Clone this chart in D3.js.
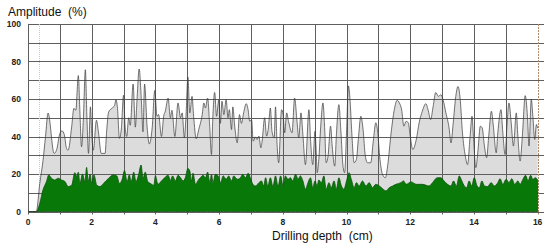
<!DOCTYPE html>
<html>
<head>
<meta charset="utf-8">
<script src="https://cdn.jsdelivr.net/npm/d3@7"></script>
<style>
  body { margin: 0; background: #fff; }
  svg { display: block; font-family: "Liberation Sans", Arial, sans-serif; }
</style>
</head>
<body>
<div id="chart"></div>
<script>
"use strict";

// amplitude profile (grey, thin black outline): [depth cm, amplitude %]
var amplitudeProfile = [
  [0, 0], [0.26, 0], [0.37, 15], [0.47, 27], [0.55, 40], [0.63, 52.5], [0.82, 31], [0.9, 33],
  [1.0, 41.6], [1.07, 43], [1.14, 41], [1.21, 33.6], [1.26, 32.7], [1.37, 45], [1.44, 55], [1.5, 54],
  [1.58, 72.5], [1.63, 53], [1.68, 34.5], [1.74, 50], [1.8, 75.6], [1.85, 50], [1.9, 31], [1.96, 55.8],
  [2.0, 41.6], [2.05, 32.7], [2.15, 48.7], [2.21, 42.5], [2.3, 31], [2.42, 31], [2.47, 43], [2.53, 53],
  [2.63, 55], [2.72, 56.6], [2.76, 59.6], [2.81, 55], [2.87, 39], [2.93, 44], [3.0, 62], [3.05, 45],
  [3.1, 40], [3.16, 50], [3.21, 46], [3.3, 68], [3.37, 45], [3.42, 59], [3.49, 76], [3.56, 59],
  [3.61, 42.5], [3.66, 68], [3.74, 45], [3.81, 36], [3.9, 45], [3.98, 64.6], [4.05, 50.8], [4.1, 51.7],
  [4.19, 40], [4.26, 50.8], [4.31, 53.5], [4.4, 60.5], [4.47, 50], [4.52, 54], [4.61, 40], [4.71, 57.9],
  [4.79, 50], [4.84, 52.6], [4.91, 39.3], [4.96, 50.8], [5.02, 71.7], [5.08, 52.6], [5.15, 61.4], [5.2, 50.8],
  [5.28, 38.8], [5.36, 43.7], [5.47, 51.7], [5.52, 57.9], [5.57, 55.2], [5.64, 60.5], [5.7, 47], [5.76, 30.4],
  [5.8, 49], [5.86, 63.5], [5.92, 50.8], [5.99, 59.6], [6.04, 47], [6.09, 58.8], [6.15, 51.7], [6.22, 59.6],
  [6.28, 50], [6.32, 54.3], [6.39, 43.7], [6.43, 55.8], [6.49, 45.5], [6.57, 36.6], [6.64, 51.7], [6.7, 47],
  [6.77, 52.6], [6.85, 57.5], [6.91, 54.3], [6.96, 48.1], [7.02, 49], [7.07, 37.5], [7.14, 39.8], [7.19, 38.4],
  [7.25, 40.2], [7.31, 34], [7.35, 37.5], [7.43, 50], [7.49, 40.2], [7.54, 43.7], [7.61, 55.2], [7.66, 42.8],
  [7.73, 39.3], [7.77, 55.8], [7.82, 35.8], [7.87, 26], [7.96, 54.3], [8.01, 51.7], [8.06, 42], [8.12, 52.6],
  [8.18, 48], [8.29, 42], [8.37, 60.5], [8.45, 47.3], [8.5, 39.3], [8.57, 52.6], [8.63, 41], [8.71, 25],
  [8.82, 54.3], [8.87, 38.4], [8.94, 25], [9.01, 42.8], [9.05, 31.3], [9.08, 20.7], [9.13, 27.8], [9.19, 45.5],
  [9.26, 57.9], [9.32, 42], [9.36, 26], [9.42, 29.6], [9.5, 45.5], [9.55, 34.9], [9.63, 24.2], [9.68, 40.2],
  [9.76, 57], [9.82, 43.7], [9.89, 24.2], [9.94, 20.7], [10.0, 42], [10.06, 67], [10.11, 59.6], [10.16, 43.7],
  [10.24, 26], [10.31, 27.8], [10.37, 38.4], [10.45, 50.8], [10.52, 43.7], [10.59, 29.6], [10.66, 26], [10.76, 26],
  [10.84, 37.5], [10.92, 47.3], [10.97, 43.7], [11.05, 27.8], [11.13, 19.8], [11.22, 18], [11.29, 24.2], [11.4, 42],
  [11.5, 54.3], [11.59, 59.3], [11.66, 57.9], [11.73, 54.3], [11.8, 45.5], [11.87, 48.1], [11.94, 47.3], [12.0, 40.2],
  [12.08, 33.1], [12.19, 38.4], [12.28, 47.3], [12.38, 53.5], [12.49, 57.5], [12.56, 54.3], [12.64, 49], [12.72, 56.1],
  [12.8, 63.5], [12.89, 61.4], [12.96, 62.3], [13.03, 59.6], [13.12, 52.6], [13.22, 44.6], [13.28, 36.6], [13.35, 47.3],
  [13.43, 61.4], [13.5, 66.7], [13.57, 59.6], [13.64, 42], [13.73, 29.6], [13.8, 25], [13.88, 40.2], [13.94, 50.8],
  [13.99, 38.4], [14.06, 23.4], [14.13, 33.1], [14.2, 45.5], [14.26, 44.6], [14.33, 34.9], [14.4, 28.7], [14.46, 39.3],
  [14.55, 53.5], [14.61, 45.5], [14.7, 31.3], [14.75, 42], [14.85, 54.3], [14.9, 43.7], [14.98, 30.4], [15.03, 43.7],
  [15.1, 57.9], [15.17, 47.3], [15.24, 34.9], [15.33, 52.6], [15.38, 40.2], [15.45, 26.9], [15.52, 40.2], [15.61, 61.8],
  [15.68, 50.8], [15.73, 34.9], [15.8, 60], [15.85, 50.8], [15.91, 38.4], [15.96, 46.4], [16.0, 44.6]
];

// feed profile (green)
var feedProfile = [
  [0, 0], [0.26, 0], [0.37, 4.4], [0.47, 11.5], [0.58, 16], [0.65, 19.5], [0.74, 17.7], [0.84, 16.8],
  [0.95, 17.7], [1.05, 16.8], [1.16, 16], [1.26, 13.3], [1.37, 14], [1.47, 20.7], [1.53, 18.6], [1.58, 21],
  [1.63, 15], [1.71, 20], [1.79, 16], [1.84, 23.5], [1.89, 16], [1.95, 20], [2.0, 15], [2.07, 19.5],
  [2.16, 14], [2.26, 13.3], [2.37, 15], [2.53, 17.7], [2.68, 19.5], [2.79, 19], [2.87, 15], [2.95, 16.8],
  [3.03, 21.8], [3.11, 16], [3.18, 19.5], [3.24, 16], [3.32, 21], [3.39, 16], [3.47, 19.5], [3.55, 24.8],
  [3.61, 17.7], [3.68, 21], [3.76, 16], [3.84, 15], [3.95, 14], [4.0, 19], [4.08, 14.5], [4.19, 16.3],
  [4.29, 18], [4.4, 19.3], [4.47, 16.6], [4.54, 19], [4.63, 16.3], [4.71, 19.3], [4.79, 18], [4.87, 16.3],
  [4.94, 18], [5.02, 23], [5.08, 21.6], [5.13, 16.3], [5.18, 20.4], [5.26, 14.5], [5.34, 16.6], [5.41, 18],
  [5.5, 19.3], [5.57, 18], [5.64, 21], [5.71, 15.4], [5.76, 19.8], [5.81, 15.4], [5.88, 19.8], [5.97, 19],
  [6.04, 15.4], [6.13, 19], [6.22, 17.2], [6.3, 19], [6.39, 16.3], [6.46, 19], [6.57, 17.2], [6.67, 18],
  [6.74, 19.8], [6.83, 18], [6.91, 20.4], [6.98, 18], [7.06, 14.5], [7.14, 13.6], [7.25, 15.4], [7.33, 16.3],
  [7.4, 13.6], [7.46, 18], [7.53, 13.6], [7.61, 18], [7.69, 13.3], [7.77, 19], [7.85, 13.3], [7.93, 19],
  [8.01, 13.6], [8.08, 19], [8.16, 17.2], [8.24, 18], [8.31, 16.3], [8.4, 19.8], [8.48, 17.2], [8.55, 19],
  [8.63, 16.3], [8.71, 11.9], [8.79, 15.4], [8.87, 18], [8.94, 12.7], [9.01, 16.3], [9.08, 13.6], [9.13, 16.8],
  [9.21, 15.4], [9.29, 19], [9.36, 11.9], [9.45, 15.4], [9.52, 12.7], [9.61, 16.3], [9.68, 11.9], [9.76, 18],
  [9.84, 13.6], [9.92, 11.9], [10.0, 16.3], [10.08, 20.7], [10.15, 17.2], [10.24, 12.7], [10.31, 15.4], [10.4, 13.6],
  [10.5, 16.3], [10.61, 13.6], [10.71, 15.4], [10.82, 12.7], [10.92, 14.5], [11.03, 13.6], [11.13, 12.2], [11.24, 11],
  [11.34, 12.7], [11.45, 13.6], [11.55, 14.5], [11.71, 15.4], [11.79, 16.3], [11.87, 14.5], [12.03, 15.8], [12.19, 14.5],
  [12.38, 14.5], [12.59, 13.6], [12.7, 15.4], [12.85, 18], [12.96, 18], [13.06, 16.3], [13.17, 14.5], [13.28, 13.6],
  [13.36, 16.3], [13.45, 13.6], [13.54, 19], [13.62, 16.3], [13.7, 13.6], [13.77, 12.7], [13.85, 16.3], [13.93, 13.6],
  [14.01, 18], [14.1, 13.6], [14.17, 12.7], [14.25, 16.3], [14.33, 13.6], [14.43, 13.3], [14.54, 15.4], [14.64, 13.6],
  [14.75, 15.4], [14.82, 17.5], [14.91, 14.5], [15.01, 17.2], [15.1, 15.4], [15.19, 17.5], [15.28, 14.5], [15.38, 16.3],
  [15.45, 14.5], [15.54, 17.2], [15.62, 19.3], [15.7, 16.3], [15.78, 19.3], [15.85, 17.2], [15.93, 18], [16.0, 16.8]
];

var xTickLabels = [0, 2, 4, 6, 8, 10, 12, 14, 16];
var yTickLabels = [0, 20, 40, 60, 80, 100];
var startMarker = 0.35;   // yellow dotted line
var endMarker = 16;       // brown dotted line

var width = 550, height = 248;
var plotLeft = 28, plotRight = 544, plotTop = 24, plotBottom = 211.5;

var x = d3.scaleLinear().domain([0, 16.2]).range([plotLeft, plotRight]);
var y = d3.scaleLinear().domain([0, 100]).range([plotBottom, plotTop]);

function px(v) { return Math.round(v) + 0.5; }

var svg = d3.select("#chart").append("svg")
  .attr("width", width)
  .attr("height", height);

// grey amplitude area
var area = d3.area()
  .x(function (d) { return x(d[0]); })
  .y0(y(0))
  .y1(function (d) { return y(d[1]); })
  .curve(d3.curveMonotoneX);

svg.append("path")
  .datum(amplitudeProfile)
  .attr("d", area)
  .attr("fill", "#dcdcdc");

// grid
var grid = svg.append("g").attr("stroke", "#5e5e5e").attr("stroke-width", 1);
grid.selectAll(".h").data(d3.range(0, 101, 10)).enter().append("line")
  .attr("x1", plotLeft).attr("x2", plotRight)
  .attr("y1", function (d) { return px(y(d)); })
  .attr("y2", function (d) { return px(y(d)); });
grid.selectAll(".v").data(d3.range(0, 16, 1)).enter().append("line")
  .attr("y1", plotTop).attr("y2", plotBottom + 3)
  .attr("x1", function (d) { return px(x(d)); })
  .attr("x2", function (d) { return px(x(d)); });

// markers
svg.append("line")
  .attr("x1", px(x(startMarker))).attr("x2", px(x(startMarker)))
  .attr("y1", plotTop).attr("y2", plotBottom)
  .attr("stroke", "#e6cf4a").attr("stroke-dasharray", "1,1");
svg.append("line")
  .attr("x1", px(x(endMarker))).attr("x2", px(x(endMarker)))
  .attr("y1", plotTop).attr("y2", plotBottom + 3)
  .attr("stroke", "#b08a6a").attr("stroke-dasharray", "2,1");

// green feed area
svg.append("path")
  .datum(feedProfile)
  .attr("d", area)
  .attr("fill", "#087808")
  .attr("stroke", "#0b4f0b")
  .attr("stroke-width", 0.8);

// amplitude outline
svg.append("path")
  .datum(amplitudeProfile)
  .attr("d", d3.line()
    .x(function (d) { return x(d[0]); })
    .y(function (d) { return y(d[1]); })
    .curve(d3.curveMonotoneX))
  .attr("fill", "none")
  .attr("stroke", "#3a3a3a")
  .attr("stroke-width", 0.7);

// axes labels
svg.append("g").selectAll("text").data(yTickLabels).enter().append("text")
  .attr("x", 21)
  .attr("y", function (d) { return y(d) + 3; })
  .attr("text-anchor", "end")
  .attr("font-size", "8.5px")
  .attr("font-weight", "bold")
  .attr("fill", "#222")
  .text(function (d) { return d; });

svg.append("g").selectAll("text").data(xTickLabels).enter().append("text")
  .attr("x", function (d) { return x(d); })
  .attr("y", 225)
  .attr("text-anchor", "middle")
  .attr("font-size", "8.5px")
  .attr("font-weight", "bold")
  .attr("fill", "#222")
  .text(function (d) { return d; });

svg.append("text")
  .attr("x", 8).attr("y", 16)
  .attr("font-size", "12px")
  .attr("fill", "#111")
  .style("white-space", "pre")
  .text("Amplitude  (%)");

svg.append("text")
  .attr("x", 272).attr("y", 240)
  .attr("font-size", "12px")
  .attr("fill", "#111")
  .style("white-space", "pre")
  .text("Drilling depth  (cm)");
</script>
</body>
</html>
